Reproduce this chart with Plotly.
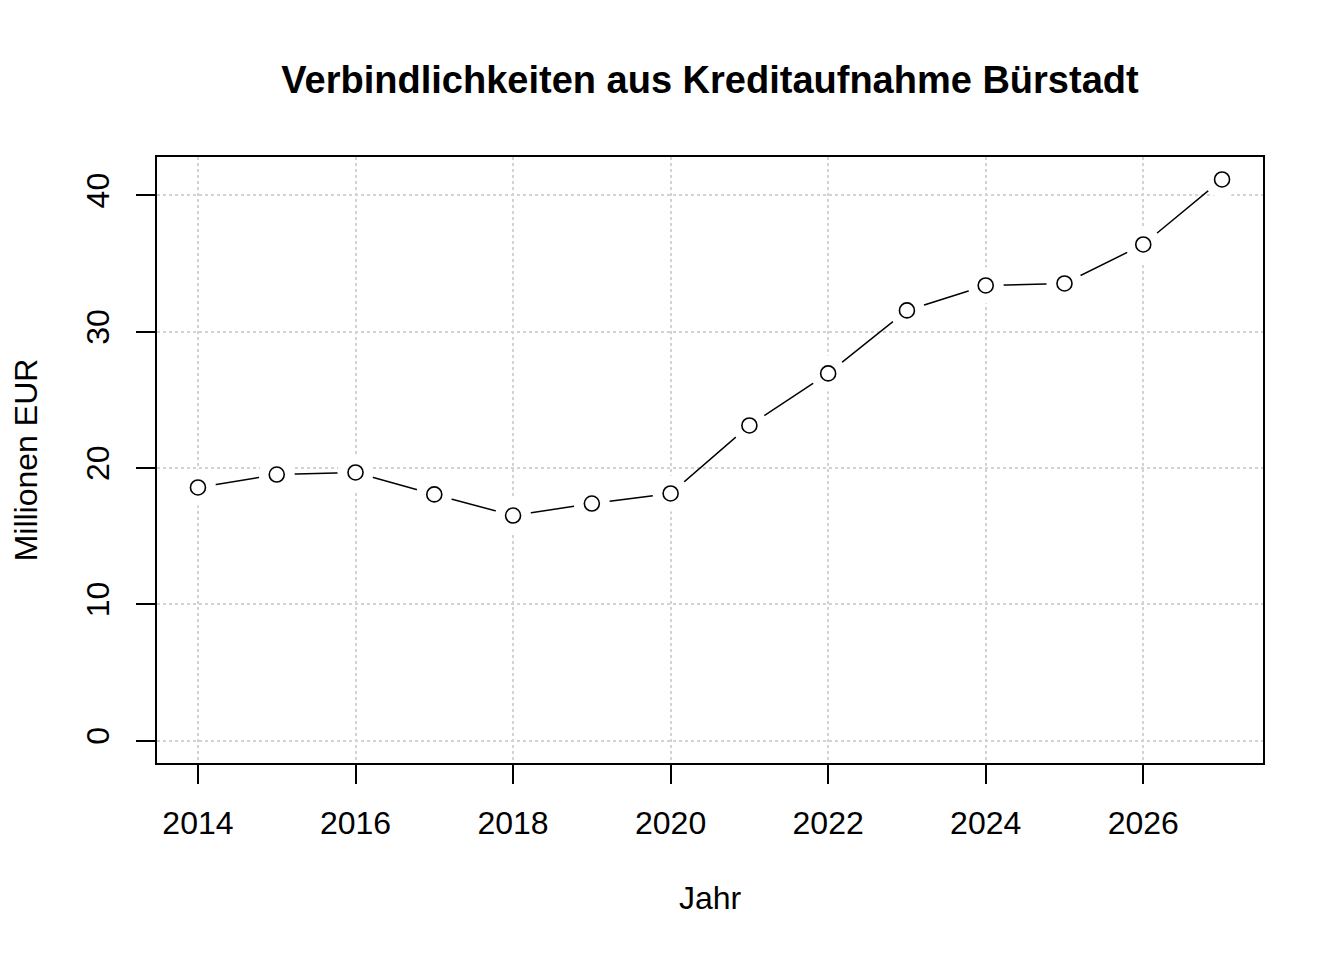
import plotly.graph_objects as go

years = [2014, 2015, 2016, 2017, 2018, 2019, 2020, 2021, 2022, 2023, 2024, 2025, 2026, 2027]
values = [18.57, 19.52, 19.67, 18.06, 16.51, 17.39, 18.13, 23.12, 26.94, 31.56, 33.39, 33.54, 36.40, 41.17]
x_ticks = [2014, 2016, 2018, 2020, 2022, 2024, 2026]
y_ticks = [0, 10, 20, 30, 40]

title_text = "Verbindlichkeiten aus Kreditaufnahme Bürstadt"
x_title = "Jahr"
y_title = "Millionen EUR"

FONT = "Liberation Sans, Arial, Helvetica, sans-serif"

# page body has an 8px margin; size figure so plot box lands at (157..1263, 157..763)
W, H = 1336, 952
OFF = 8
L, R, T, B = 157 - OFF, 81, 157 - OFF, 197

fig = go.Figure()
# connecting line
fig.add_trace(go.Scatter(x=years, y=values, mode="lines",
                         line=dict(color="black", width=1.5),
                         hoverinfo="skip", showlegend=False))
# white mask to create gaps around points (R type="b")
fig.add_trace(go.Scatter(x=years, y=values, mode="markers",
                         marker=dict(symbol="circle", size=36, color="white",
                                     line=dict(width=0)),
                         hoverinfo="skip", showlegend=False))
# open circles
fig.add_trace(go.Scatter(x=years, y=values, mode="markers",
                         marker=dict(symbol="circle-open", size=15, color="black",
                                     line=dict(width=1.6, color="black")),
                         showlegend=False))

ymax = max(values)
ypad = 0.04 * (ymax - 0)
xpad = 0.04 * (years[-1] - years[0])

fig.update_layout(
    width=W, height=H,
    paper_bgcolor="white", plot_bgcolor="white",
    margin=dict(l=L, r=R, t=T, b=B),
    font=dict(family=FONT, color="black", size=32),
    title=dict(text="<b>" + title_text + "</b>",
               x=(710 - OFF) / W, xanchor="center",
               y=1 - (80 - OFF) / H, yanchor="middle",
               font=dict(size=38, family=FONT)),
    showlegend=False,
)
fig.update_xaxes(
    range=[years[0] - xpad, years[-1] + xpad],
    tickmode="array", tickvals=x_ticks, ticktext=[str(t) for t in x_ticks],
    ticks="outside", ticklen=19, tickwidth=1.5, tickcolor="black",
    showline=True, linecolor="black", linewidth=1.5, mirror=True,
    showgrid=True, gridcolor="#d3d3d3", griddash="dot", gridwidth=1.5,
    zeroline=False, ticklabelstandoff=12,
    title=dict(text=x_title, standoff=46, font=dict(size=32)),
    tickfont=dict(size=32),
)
fig.update_yaxes(
    range=[0 - ypad, ymax + ypad],
    tickmode="array", tickvals=y_ticks, ticktext=[str(t) for t in y_ticks],
    ticks="outside", ticklen=19, tickwidth=1.5, tickcolor="black",
    showline=True, linecolor="black", linewidth=1.5, mirror=True,
    showgrid=True, gridcolor="#d3d3d3", griddash="dot", gridwidth=1.5,
    zeroline=False, tickangle=-90, ticklabelstandoff=14,
    title=dict(text=y_title, standoff=36, font=dict(size=32)),
    tickfont=dict(size=32),
)

fig.write_html("out.html")
